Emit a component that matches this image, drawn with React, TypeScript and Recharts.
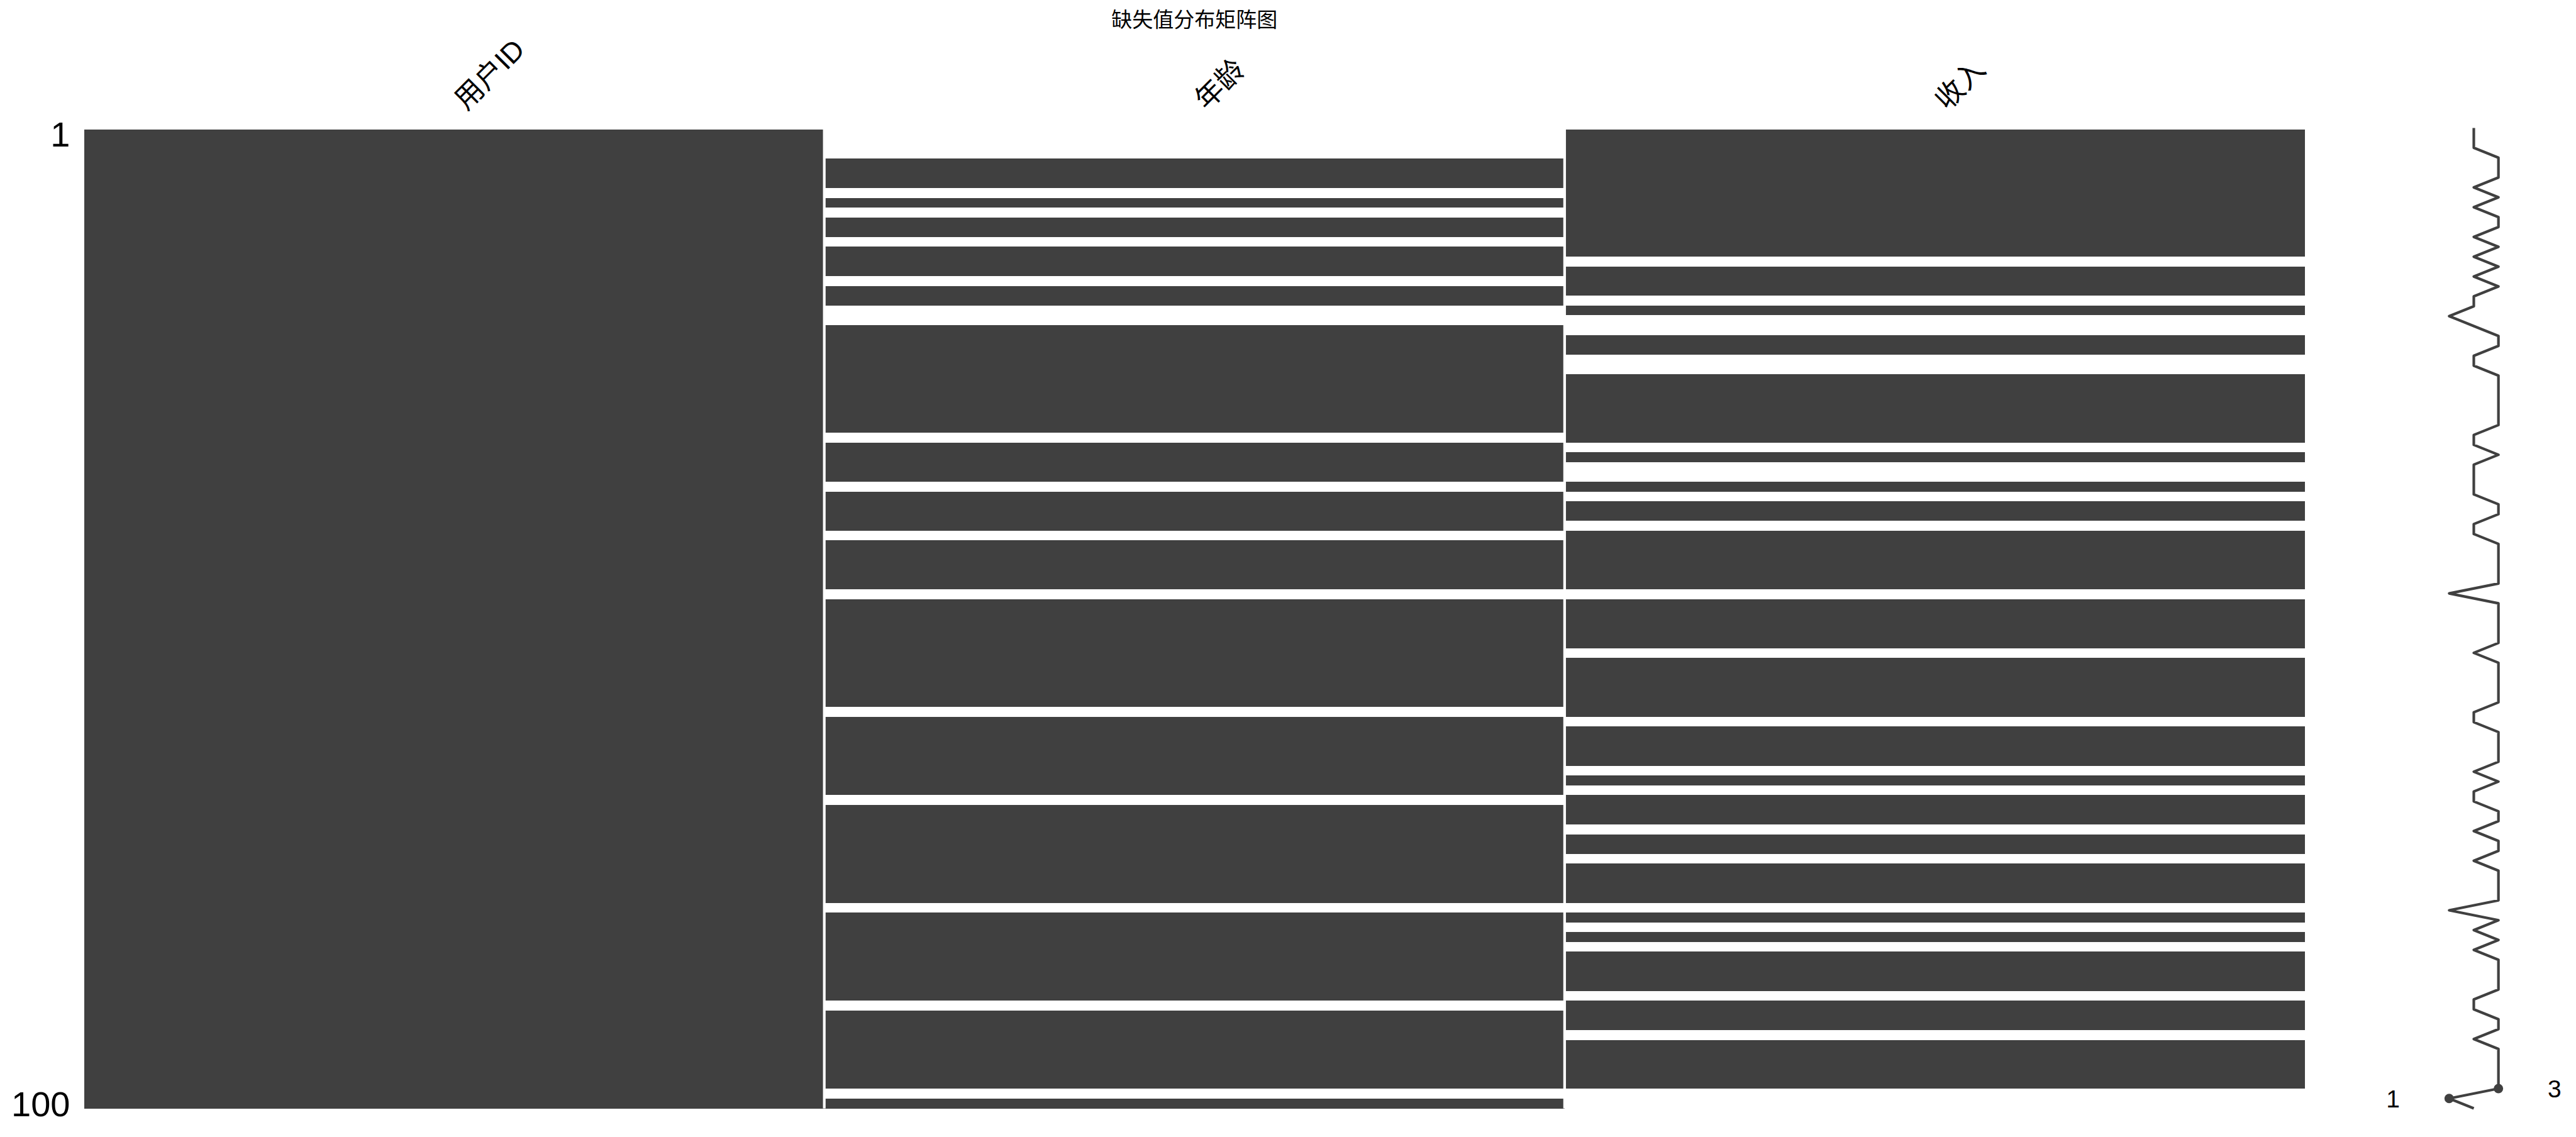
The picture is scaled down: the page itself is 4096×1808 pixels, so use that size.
import React from 'react';
import {
  BarChart,
  Bar,
  Cell,
  XAxis,
  YAxis,
  ReferenceLine,
  LineChart,
  Line,
  ReferenceDot,
} from 'recharts';

const title = '缺失值分布矩阵图';
const columns = ['用户ID', '年龄', '收入'];
const rowCount = 100;
const rowTickLabels = ['1', '100'];

const userIdMissingRows: number[] = [];
const ageMissingRows = [0, 1, 2, 6, 8, 11, 15, 18, 19, 31, 36, 41, 47, 59, 68, 79, 89, 98];
const incomeMissingRows = [
  13, 17, 19, 20, 23, 24, 32, 34, 35, 37, 40, 47, 53, 60, 65, 67, 71, 74, 79, 81, 83, 88, 92, 98,
  99,
];
const missingByColumn = [userIdMissingRows, ageMissingRows, incomeMissingRows];

const DARK = '#404040';
const FONT = "'Liberation Sans', 'Noto Sans CJK SC', sans-serif";

const rows = Array.from({ length: rowCount }, (_, i) => {
  const present = missingByColumn.map((m) => !m.includes(i));
  return {
    row: String(i + 1),
    idx: i,
    c0: 1,
    c1: 1,
    c2: 1,
    present,
    filled: present.filter(Boolean).length,
  };
});

const minFilled = Math.min(...rows.map((r) => r.filled));
const maxFilled = Math.max(...rows.map((r) => r.filled));
const minRow = rows.map((r) => r.filled).lastIndexOf(minFilled);
const maxRow = rows.map((r) => r.filled).lastIndexOf(maxFilled);

// matrix plot box (px)
const M_LEFT = 133.5;
const M_RIGHT = 3665;
const M_TOP = 205.6;
const M_BOTTOM = 1762.5;
const M_W = 3700;
const H = 1808;
const Y_AXIS_W = 120;
const X_AXIS_H = 150;

// sparkline box
const S_X = 3700;
const S_W = 396;
const S_LEFT = 116;
const S_RIGHT = 45;
const S_TOP = 203.5;
const S_BOTTOM = 45.5;
const sUnit = (S_W - S_LEFT - S_RIGHT) / (maxFilled + 2 - (minFilled - 2));
const DOT_R = 7.5;

function ColumnTick(props: any) {
  const { x, payload } = props;
  const name = columns[Math.floor(payload.value)];
  const ax = x + 19.5;
  const ay = 177;
  return (
    <text
      x={ax}
      y={ay}
      transform={`rotate(-45 ${ax} ${ay})`}
      fontSize={45}
      fill="#000"
      fontFamily={FONT}
    >
      {name}
    </text>
  );
}

export default function App() {
  return (
    <div
      style={{
        position: 'absolute',
        left: 0,
        top: 0,
        width: 4096,
        height: H,
        background: '#fff',
        overflow: 'hidden',
      }}
    >
      <style>{'.recharts-bar-rectangle path{shape-rendering:crispEdges}'}</style>
      <div
        style={{
          position: 'absolute',
          left: M_LEFT,
          width: M_RIGHT - M_LEFT,
          top: 12,
          lineHeight: '40px',
          fontSize: 33,
          textAlign: 'center',
          fontFamily: FONT,
          color: '#000',
        }}
      >
        {title}
      </div>

      <div style={{ position: 'absolute', left: 0, top: 0 }}>
        <BarChart
          width={M_W}
          height={H}
          data={rows}
          layout="vertical"
          barCategoryGap={0}
          barGap={0}
          margin={{
            top: M_TOP - X_AXIS_H,
            left: M_LEFT - Y_AXIS_W,
            right: M_W - M_RIGHT,
            bottom: H - M_BOTTOM,
          }}
        >
          <XAxis
            type="number"
            orientation="top"
            domain={[0, columns.length]}
            ticks={columns.map((_, i) => i + 0.5)}
            tick={<ColumnTick />}
            axisLine={false}
            tickLine={false}
            height={X_AXIS_H}
            allowDataOverflow
          />
          <YAxis
            type="category"
            dataKey="row"
            ticks={rowTickLabels}
            interval={0}
            width={Y_AXIS_W}
            axisLine={false}
            tickLine={false}
            tickSize={0}
            tickMargin={22}
            tick={{ fill: '#000', fontSize: 56, fontFamily: FONT }}
          />
          {columns.map((c, ci) => (
            <Bar key={c} dataKey={`c${ci}`} stackId="m" isAnimationActive={false}>
              {rows.map((r) => (
                <Cell key={r.row} fill={r.present[ci] ? DARK : '#ffffff'} />
              ))}
            </Bar>
          ))}
          {columns.slice(1).map((c, i) => (
            <ReferenceLine key={c} x={i + 1} stroke="#ffffff" strokeWidth={4.2} />
          ))}
        </BarChart>
      </div>

      <div style={{ position: 'absolute', left: S_X, top: 0 }}>
        <LineChart
          width={S_W}
          height={H}
          data={rows}
          layout="vertical"
          margin={{ top: S_TOP, left: S_LEFT, right: S_RIGHT, bottom: S_BOTTOM }}
        >
          <XAxis type="number" domain={[minFilled - 2, maxFilled + 2]} hide />
          <YAxis type="number" dataKey="idx" domain={[0, rowCount - 1]} hide />
          <Line
            dataKey="filled"
            stroke={DARK}
            strokeWidth={4.2}
            strokeLinejoin="round"
            dot={false}
            activeDot={false}
            isAnimationActive={false}
          />
          <ReferenceDot
            x={minFilled}
            y={minRow}
            r={DOT_R}
            fill={DARK}
            stroke="none"
            label={{
              value: String(minFilled),
              position: 'left',
              offset: 2 * sUnit - DOT_R,
              fontSize: 39,
              fill: '#000',
              fontFamily: FONT,
            }}
          />
          <ReferenceDot
            x={maxFilled}
            y={maxRow}
            r={DOT_R}
            fill={DARK}
            stroke="none"
            label={{
              value: String(maxFilled),
              position: 'right',
              offset: 2 * sUnit - DOT_R,
              fontSize: 39,
              fill: '#000',
              fontFamily: FONT,
            }}
          />
        </LineChart>
      </div>
    </div>
  );
}
